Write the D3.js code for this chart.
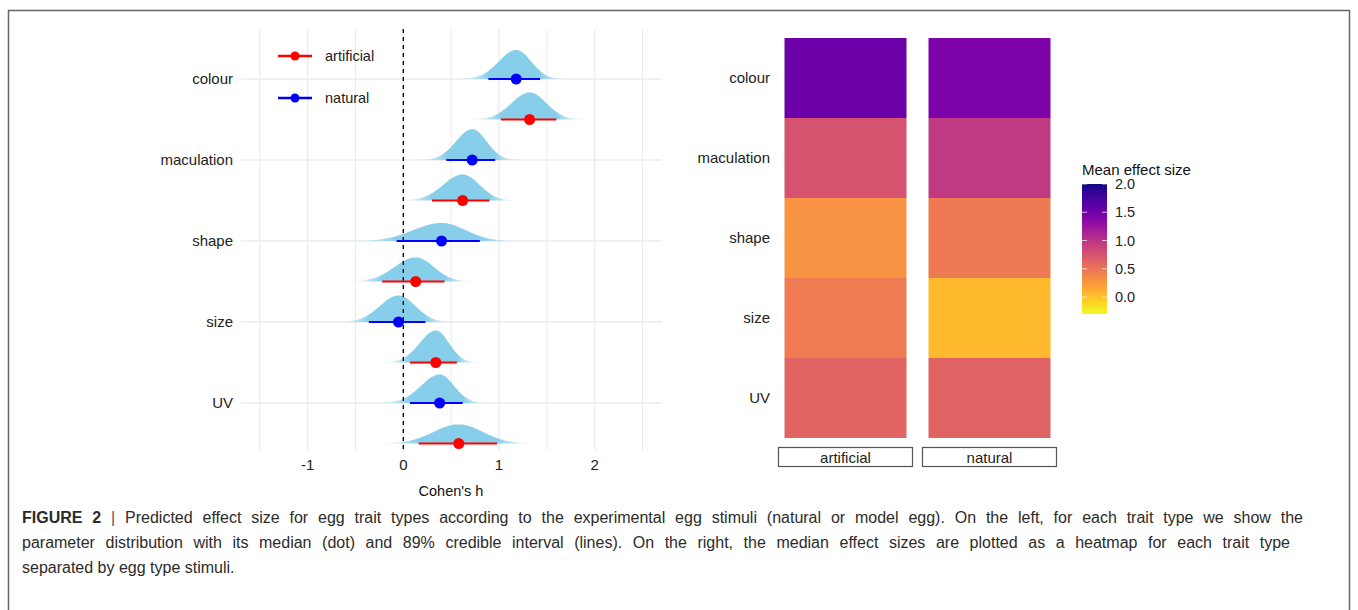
<!DOCTYPE html>
<html>
<head>
<meta charset="utf-8">
<script src="https://cdn.jsdelivr.net/npm/d3@7"></script>
<style>
  body { margin: 0; background: #fff; }
  text { font-family: "Liberation Sans", Arial, sans-serif; }
</style>
</head>
<body>
<div class="chart"></div>
<script>
var svgWidth = 1358;
var svgHeight = 610;

// data
var traits = ["colour", "maculation", "shape", "size", "UV"];
var stimuli = ["artificial", "natural"];

// posterior median and 89% interval (Cohen's h)
var naturalMedian = [1.18, 0.72, 0.40, -0.05, 0.38];
var naturalLow = [0.89, 0.45, -0.07, -0.36, 0.07];
var naturalHigh = [1.43, 0.96, 0.80, 0.23, 0.62];
var artificialMedian = [1.32, 0.62, 0.13, 0.34, 0.58];
var artificialLow = [1.02, 0.30, -0.22, 0.07, 0.16];
var artificialHigh = [1.60, 0.90, 0.43, 0.56, 0.98];

// heatmap mean effect sizes
var heatArtificial = [1.53, 0.76, 0.29, 0.45, 0.62];
var heatNatural = [1.43, 0.95, 0.46, 0.05, 0.63];

var xTicks = [-1, 0, 1, 2];
var xMinor = [-1.5, -0.5, 0.5, 1.5, 2.5];
var legendTicks = [0, 0.5, 1, 1.5, 2];

var svg = d3.select(".chart")
  .append("svg")
  .attr("width", svgWidth)
  .attr("height", svgHeight);

var defs = svg.append("defs");

// outer frame of the figure
svg.append("path")
  .attr("d", "M8.5,620 V10.5 H1349.5 V620")
  .attr("fill", "none")
  .attr("stroke", "#666")
  .attr("stroke-width", 1.5);

// ---------- left panel ----------
var panel = { left: 241, right: 662, top: 29, bottom: 451 };

var xScale = d3.scaleLinear()
  .domain([-1.7, 2.7])
  .range([403.3 - 1.7 * 95.67, 403.3 + 2.7 * 95.67]);

var yScale = d3.scalePoint()
  .domain(traits)
  .range([79, 403]);
var dodge = yScale.step() / 2;

// slab height per unit of density
var slabScale = d3.scaleLinear().domain([0, 1]).range([0, 12.3]);

var left = svg.append("g");

left.selectAll(".minor")
  .data(xMinor)
  .enter()
  .append("line")
  .attr("x1", d => xScale(d)).attr("x2", d => xScale(d))
  .attr("y1", panel.top).attr("y2", panel.bottom)
  .attr("stroke", "#EBEBEB")
  .attr("stroke-width", 1);

left.selectAll(".major")
  .data(xTicks)
  .enter()
  .append("line")
  .attr("x1", d => xScale(d)).attr("x2", d => xScale(d))
  .attr("y1", panel.top).attr("y2", panel.bottom)
  .attr("stroke", "#EBEBEB")
  .attr("stroke-width", 1.3);

left.selectAll(".hgrid")
  .data(traits)
  .enter()
  .append("line")
  .attr("x1", panel.left).attr("x2", panel.right)
  .attr("y1", d => yScale(d)).attr("y2", d => yScale(d))
  .attr("stroke", "#EBEBEB")
  .attr("stroke-width", 1.5);

// build rows
var rows = [];
traits.forEach(function(t, i) {
  rows.push({ trait: t, group: "natural", med: naturalMedian[i], lo: naturalLow[i], hi: naturalHigh[i],
    y: yScale(t), color: "#0000FF" });
  rows.push({ trait: t, group: "artificial", med: artificialMedian[i], lo: artificialLow[i], hi: artificialHigh[i],
    y: yScale(t) + dodge, color: "#FF0000" });
});

var z89 = 1.598;
rows.forEach(function(r, i) {
  var sL = (r.med - r.lo) / z89;
  var sR = (r.hi - r.med) / z89;
  var peak = 2 / (Math.sqrt(2 * Math.PI) * (sL + sR));
  var pts = d3.range(-4, 4.001, 0.05).map(function(k) {
    var s = k < 0 ? sL : sR;
    return { x: r.med + k * s, d: peak * Math.exp(-k * k / 2) };
  });
  var id = "slab" + i;
  var x0 = xScale(r.med - 4 * sL), x1 = xScale(r.med + 4 * sR);
  var grad = defs.append("linearGradient")
    .attr("id", id)
    .attr("gradientUnits", "userSpaceOnUse")
    .attr("x1", x0).attr("x2", x1)
    .attr("y1", 0).attr("y2", 0);
  var off = v => (xScale(v) - x0) / (x1 - x0);
  grad.append("stop").attr("offset", 0).attr("stop-color", "#87CEEB").attr("stop-opacity", 0);
  grad.append("stop").attr("offset", off(r.med - 2.6 * sL)).attr("stop-color", "#87CEEB").attr("stop-opacity", 0.35);
  grad.append("stop").attr("offset", off(r.lo)).attr("stop-color", "#87CEEB").attr("stop-opacity", 1);
  grad.append("stop").attr("offset", off(r.hi)).attr("stop-color", "#87CEEB").attr("stop-opacity", 1);
  grad.append("stop").attr("offset", off(r.med + 2.6 * sR)).attr("stop-color", "#87CEEB").attr("stop-opacity", 0.35);
  grad.append("stop").attr("offset", 1).attr("stop-color", "#87CEEB").attr("stop-opacity", 0);

  var area = d3.area()
    .x(d => xScale(d.x))
    .y0(r.y)
    .y1(d => r.y - slabScale(d.d))
    .curve(d3.curveBasis);

  left.append("path")
    .attr("d", area(pts))
    .attr("fill", "url(#" + id + ")");
});

// zero reference
left.append("line")
  .attr("x1", xScale(0)).attr("x2", xScale(0))
  .attr("y1", panel.top).attr("y2", panel.bottom)
  .attr("stroke", "#000")
  .attr("stroke-width", 1.3)
  .attr("stroke-dasharray", "4,4");

// intervals and medians
left.selectAll(".interval")
  .data(rows)
  .enter()
  .append("line")
  .attr("x1", d => xScale(d.lo)).attr("x2", d => xScale(d.hi))
  .attr("y1", d => d.y).attr("y2", d => d.y)
  .attr("stroke", d => d.color)
  .attr("stroke-width", 2);

left.selectAll(".median")
  .data(rows)
  .enter()
  .append("circle")
  .attr("cx", d => xScale(d.med))
  .attr("cy", d => d.y)
  .attr("r", 5.5)
  .attr("fill", d => d.color);

// axes text
left.selectAll(".ylab")
  .data(traits)
  .enter()
  .append("text")
  .attr("x", 233)
  .attr("y", d => yScale(d))
  .attr("dy", "0.35em")
  .attr("text-anchor", "end")
  .attr("font-size", 15)
  .attr("fill", "#222")
  .text(d => d);

left.selectAll(".xlab")
  .data(xTicks)
  .enter()
  .append("text")
  .attr("x", d => xScale(d))
  .attr("y", 465)
  .attr("dy", "0.35em")
  .attr("text-anchor", "middle")
  .attr("font-size", 15)
  .attr("fill", "#222")
  .text(d => d < 0 ? "-" + Math.abs(d) : d);

left.append("text")
  .attr("x", 451)
  .attr("y", 491)
  .attr("dy", "0.35em")
  .attr("text-anchor", "middle")
  .attr("font-size", 14.5)
  .attr("fill", "#111")
  .text("Cohen's h");

// legend
var legend = left.selectAll(".legend")
  .data([{ name: "artificial", color: "#FF0000" }, { name: "natural", color: "#0000FF" }])
  .enter()
  .append("g")
  .attr("transform", (d, i) => `translate(278, ${56 + i * 42})`);

legend.append("line")
  .attr("x1", 0).attr("x2", 34)
  .attr("stroke", d => d.color)
  .attr("stroke-width", 2.5);
legend.append("circle")
  .attr("cx", 17).attr("r", 4.5)
  .attr("fill", d => d.color);
legend.append("text")
  .attr("x", 47)
  .attr("dy", "0.35em")
  .attr("font-size", 14.5)
  .attr("fill", "#222")
  .text(d => d.name);

// ---------- heatmap ----------
var heat = svg.append("g");

var colScale = d3.scaleBand()
  .domain(stimuli)
  .range([778, 1057])
  .paddingInner(0.0625);

var rowScale = d3.scaleBand()
  .domain(traits)
  .range([38, 438]);

var colorScale = d3.scaleSequential(d3.interpolatePlasma)
  .domain([2.0, -0.3]);

var cells = [];
traits.forEach(function(t, i) {
  cells.push({ trait: t, stim: "artificial", v: heatArtificial[i] });
  cells.push({ trait: t, stim: "natural", v: heatNatural[i] });
});

var inset = 6.5;
heat.selectAll(".cell")
  .data(cells)
  .enter()
  .append("rect")
  .attr("x", d => colScale(d.stim) + inset)
  .attr("width", colScale.bandwidth() - 2 * inset)
  .attr("y", d => rowScale(d.trait))
  .attr("height", rowScale.bandwidth())
  .attr("fill", d => colorScale(d.v));

heat.selectAll(".hlab")
  .data(traits)
  .enter()
  .append("text")
  .attr("x", 770)
  .attr("y", d => rowScale(d) + rowScale.bandwidth() / 2)
  .attr("dy", "0.35em")
  .attr("text-anchor", "end")
  .attr("font-size", 15)
  .attr("fill", "#222")
  .text(d => d);

// strips
var strip = heat.selectAll(".strip")
  .data(stimuli)
  .enter()
  .append("g");
strip.append("rect")
  .attr("x", d => colScale(d) + 0.5)
  .attr("y", 447.5)
  .attr("width", colScale.bandwidth() - 1)
  .attr("height", 19)
  .attr("fill", "#fff")
  .attr("stroke", "#555")
  .attr("stroke-width", 1.2);
strip.append("text")
  .attr("x", d => colScale(d) + colScale.bandwidth() / 2)
  .attr("y", 457.5)
  .attr("dy", "0.35em")
  .attr("text-anchor", "middle")
  .attr("font-size", 15)
  .attr("fill", "#222")
  .text(d => d);

// colour bar
var barScale = d3.scaleLinear().domain([-0.3, 2.0]).range([314, 184]);
var barGrad = defs.append("linearGradient")
  .attr("id", "bar")
  .attr("x1", 0).attr("x2", 0).attr("y1", 1).attr("y2", 0);
d3.range(0, 1.001, 0.05).forEach(function(t) {
  barGrad.append("stop")
    .attr("offset", t)
    .attr("stop-color", colorScale(-0.3 + t * 2.3));
});

heat.append("rect")
  .attr("x", 1082).attr("y", barScale(2.0))
  .attr("width", 25).attr("height", barScale(-0.3) - barScale(2.0))
  .attr("fill", "url(#bar)");

heat.selectAll(".btick")
  .data(legendTicks)
  .enter()
  .append("path")
  .attr("d", d => `M1082,${barScale(d)}h5M1107,${barScale(d)}h-5`)
  .attr("stroke", "#fff")
  .attr("stroke-opacity", 0.7)
  .attr("stroke-width", 1);

heat.selectAll(".blab")
  .data(legendTicks)
  .enter()
  .append("text")
  .attr("x", 1115)
  .attr("y", d => barScale(d))
  .attr("dy", "0.35em")
  .attr("font-size", 14.5)
  .attr("fill", "#222")
  .text(d => d.toFixed(1));

heat.append("text")
  .attr("x", 1082)
  .attr("y", 170)
  .attr("dy", "0.35em")
  .attr("font-size", 15)
  .attr("fill", "#111")
  .text("Mean effect size");

// ---------- caption ----------
var captionLines = [
  "Predicted effect size for egg trait types according to the experimental egg stimuli (natural or model egg). On the left, for each trait type we show the",
  "parameter distribution with its median (dot) and 89% credible interval (lines). On the right, the median effect sizes are plotted as a heatmap for each trait type",
  "separated by egg type stimuli."
];
var captionRight = [1303, 1290, null];

var cap = svg.append("g").attr("fill", "#2b2b2b").attr("font-size", 16);
captionLines.forEach(function(line, i) {
  var t = cap.append("text").attr("x", 22).attr("y", 523 + i * 25);
  if (i === 0) {
    t.append("tspan").attr("font-weight", "bold").text("FIGURE 2 ");
    t.append("tspan").attr("fill", "#555").text("| ");
  }
  t.append("tspan").text(line);
  // justify the full lines
  if (captionRight[i]) {
    var natural = t.node().getComputedTextLength();
    var spaces = t.text().split(" ").length - 1;
    t.attr("word-spacing", (captionRight[i] - 22 - natural) / spaces);
  }
});
</script>
</body>
</html>
